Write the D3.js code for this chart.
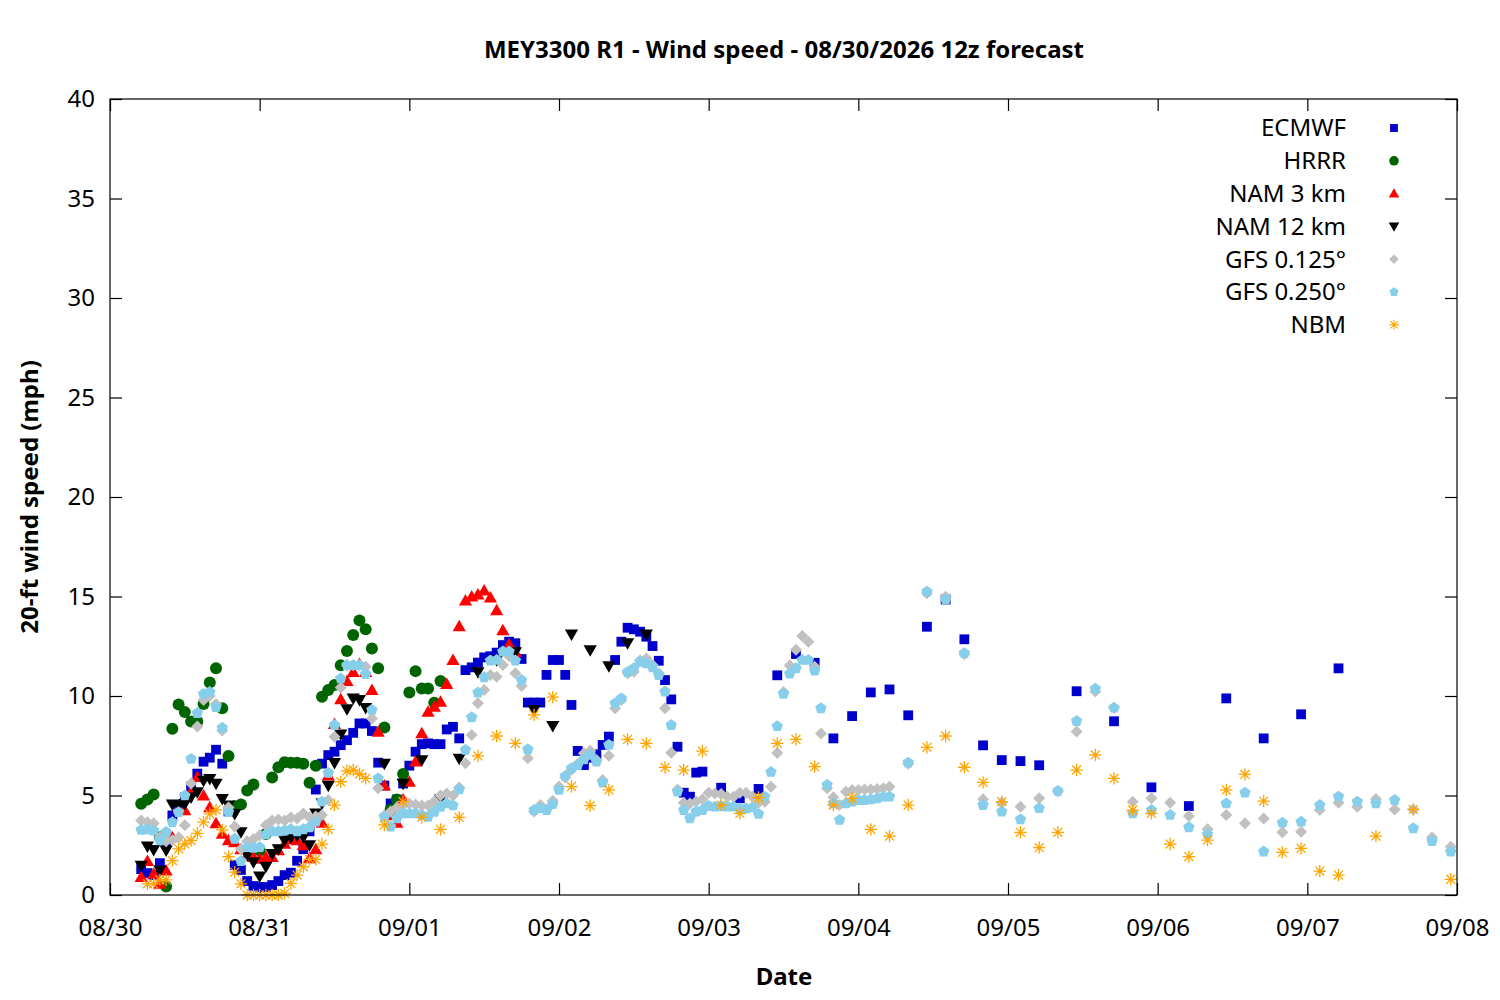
<!DOCTYPE html>
<html>
<head>
<meta charset="utf-8">
<script src="https://cdn.jsdelivr.net/npm/d3@7"></script>
<style>
  html, body { margin: 0; padding: 0; background: #fff; }
  svg text { font-family: "Noto Sans", "Open Sans", sans-serif; }
</style>
</head>
<body>
<svg id="chart" width="1500" height="1000"></svg>
<script>
// ---------------- DATA (hours after 08/30 00:00 local) ----------------
const titleText = "MEY3300 R1 - Wind speed - 08/30/2026 12z forecast";
const xTickLabels = ["08/30","08/31","09/01","09/02","09/03","09/04","09/05","09/06","09/07","09/08"];
const yTickValues = [0,5,10,15,20,25,30,35,40];
const seriesNames = ["ECMWF","HRRR","NAM 3 km","NAM 12 km","GFS 0.125°","GFS 0.250°","NBM"];

// ECMWF: hourly from h5, 3-hourly from h98, 6-hourly from h155
const ecmwfHourly = [1.3,1.1,1.0,1.6,2.6,4.0,4.5,4.9,5.45,6.1,6.7,6.9,7.3,6.6,4.2,1.5,1.26,0.7,0.45,0.4,0.4,0.5,0.7,1.0,1.12,1.72,2.3,3.2,5.3,6.6,7.03,7.2,7.53,7.78,8.15,8.62,8.62,8.24,6.65,5.5,4.6,4.8,5.6,6.5,7.2,7.58,7.62,7.58,7.58,8.32,8.45,7.87,11.3,11.44,11.68,11.94,12.0,12.18,12.56,12.73,12.65,11.86,9.67,9.67,9.67,11.06,11.81,11.81,11.06,9.55,7.24,6.53,6.9,7.07,7.54,7.96,11.81,12.73,13.43,13.35,13.23,12.98,12.51,11.77,10.8,9.83,7.45,5.14,4.94,6.15,6.2];
const ecmwf3h = [5.39,4.86,5.33,11.04,12.11,11.67,7.87,8.99,10.18,10.33,9.03,13.48,14.85,12.85,7.52,6.78,6.73,6.52];
const ecmwf6h = [10.24,8.73,5.41,4.47,9.88,7.87,9.08,11.39];

// HRRR: hourly from h5
const hrrrHourly = [4.58,4.8,5.05,2.9,0.43,8.35,9.57,9.19,8.72,8.72,9.6,10.68,11.4,9.39,6.98,4.46,4.55,5.25,5.55,2.24,3.07,5.9,6.42,6.67,6.65,6.65,6.6,5.64,6.5,9.96,10.3,10.55,11.55,12.26,13.06,13.8,13.35,12.39,11.4,8.42,4.3,4.8,6.08,10.18,11.25,10.38,10.38,9.66,10.75];

// NAM 3 km: hourly from h5
const nam3Hourly = [0.9,1.7,1.06,0.56,1.23,2.9,4.33,4.25,5.2,5.92,5.0,4.41,3.6,3.07,2.74,2.65,2.3,2.0,1.9,1.82,1.9,1.9,2.24,2.57,2.8,2.75,2.5,1.84,2.3,3.63,6.0,8.59,9.83,10.75,11.2,11.6,11.2,10.3,8.2,5.5,4.0,3.63,4.8,5.69,6.7,8.12,9.2,9.46,9.7,10.6,11.8,13.5,14.8,15.0,15.1,15.3,14.95,14.3,13.3,12.6,12.2];

// NAM 12 km: hourly from h5, 3-hourly from h44
const nam12Hourly = [1.48,2.44,2.27,1.23,2.24,4.55,4.5,4.58,4.9,5.17,5.75,5.84,5.59,4.83,4.5,4.08,3.16,2.0,1.65,0.93,1.43,2.07,2.3,2.74,2.9,3.0,2.9,2.5,4.1,4.6,5.5,6.64,8.07,9.34,9.88,9.8,9.4];
const nam12_3h = [6.6,5.6,6.78,4.8,6.85,11.2,11.8,12.2,9.3,8.5,13.1,12.3,11.5,12.65,13.1];

// GFS 0.125°: hourly from h5, 3-hourly from h128
const gfs125Hourly = [3.75,3.65,3.6,2.9,2.7,2.75,2.9,3.5,5.6,8.47,9.8,10.0,9.6,8.27,4.4,3.44,2.3,2.7,2.8,3.0,3.5,3.75,3.8,3.74,3.9,3.85,4.1,3.9,3.95,4.02,4.77,7.95,10.43,11.55,11.55,11.55,11.47,8.87,5.36,4.0,4.2,4.4,4.5,4.6,4.55,4.5,4.5,4.7,5.0,5.1,5.0,5.4,6.62,8.04,9.63,10.3,11.06,10.97,11.56,12.0,11.14,10.5,6.87,4.19,4.52,4.3,4.74,5.45,5.9,6.3,6.6,7.12,7.25,6.79,5.78,7.0,9.38,9.8,11.14,11.22,11.8,11.89,11.56,11.14,9.38,7.15,5.3,4.64,4.6,4.7,4.81,5.14,5.1,5.07,4.94,4.94,5.14,5.14,4.94,4.64,4.69,5.44,7.14,10.2,11.53,12.33,13.01,12.73,11.47,8.12,5.36,4.91,4.52,5.19,5.28,5.28,5.3,5.3,5.33,5.36,5.44];
const gfs125_3h = [6.6,15.16,14.99,12.1,4.81,4.64,4.44,4.86,5.2,8.21,10.22,9.4,4.69,4.86,4.64,3.97,3.3,4.02,3.6,3.85,3.15,3.18,4.27,4.64,4.44,4.82,4.3,4.3,2.9,2.43];

// GFS 0.250°: hourly from h5, 3-hourly from h128
const gfs250Hourly = [3.27,3.3,3.24,2.74,3.16,3.66,4.16,5.0,6.84,9.14,10.1,10.2,9.44,8.4,4.16,2.82,1.7,2.4,2.37,2.4,3.04,3.2,3.2,3.24,3.3,3.2,3.3,3.4,3.68,4.69,6.14,8.54,10.88,11.55,11.55,11.55,11.1,9.3,5.86,3.93,3.43,3.85,4.1,4.1,4.1,4.02,3.93,4.18,4.43,4.6,4.5,5.31,7.29,8.93,10.17,10.94,11.78,11.81,12.23,12.23,11.78,10.8,7.32,4.27,4.36,4.27,4.57,5.28,5.98,6.37,6.53,6.82,7.04,6.7,5.65,7.54,9.63,9.88,11.2,11.39,11.72,11.64,11.44,11.05,10.22,8.54,5.19,4.27,3.85,4.19,4.27,4.47,4.44,4.47,4.44,4.44,4.35,4.35,4.4,4.07,4.94,6.18,8.48,10.1,11.12,11.39,11.81,11.81,11.27,9.38,5.53,4.6,3.77,4.6,4.69,4.77,4.77,4.8,4.85,4.94,4.94];
const gfs250_3h = [6.65,15.24,14.86,12.15,4.52,4.19,3.8,4.36,5.23,8.74,10.37,9.41,4.1,4.27,4.02,3.4,3.05,4.6,5.14,2.18,3.63,3.68,4.52,4.94,4.69,4.6,4.77,3.35,2.71,2.18];

// NBM: hourly from h6, 3-hourly from h44, 6-hourly from h203
const nbmHourly = [0.56,0.56,0.76,0.76,1.73,2.32,2.57,2.74,3.1,3.66,4.08,4.28,3.27,1.93,1.15,0.56,0,0,0,0,0,0,0.08,0.58,1.0,1.42,1.79,1.79,2.56,3.3,4.52,5.69,6.24,6.28,6.08,5.86];
const nbm3h = [3.52,4.69,3.9,3.3,3.9,6.99,7.99,7.62,9.05,9.94,5.45,4.49,5.28,7.82,7.62,6.41,6.28,7.23,4.52,4.1,4.9,7.62,7.82,6.45,4.52,4.86,3.3,2.96,4.52,7.42,7.99,6.42,5.66,4.69,3.15,2.38,3.15,6.28,7.04,5.86,4.27,4.1,2.56,1.93,2.76,5.28,6.06,4.72,2.14,2.34,1.2,1.0];
const nbm6h = [2.96,4.3,0.79];

// ---------------- BUILD ----------------
function seg(start, step, vals) { return vals.map((v, i) => ({ h: start + i * step, v: v })); }

const series = [
  { name: seriesNames[0], color: "#0000cc", shape: "square",
    pts: [].concat(seg(5,1,ecmwfHourly), seg(98,3,ecmwf3h), seg(155,6,ecmwf6h)) },
  { name: seriesNames[1], color: "#006400", shape: "circle",
    pts: seg(5,1,hrrrHourly) },
  { name: seriesNames[2], color: "#ff0000", shape: "triUp",
    pts: seg(5,1,nam3Hourly) },
  { name: seriesNames[3], color: "#000000", shape: "triDown",
    pts: [].concat(seg(5,1,nam12Hourly), seg(44,3,nam12_3h)) },
  { name: seriesNames[4], color: "#c0c0c0", shape: "diamond",
    pts: [].concat(seg(5,1,gfs125Hourly), seg(128,3,gfs125_3h)) },
  { name: seriesNames[5], color: "#87ceeb", shape: "pentagon",
    pts: [].concat(seg(5,1,gfs250Hourly), seg(128,3,gfs250_3h)) },
  { name: seriesNames[6], color: "#ffa500", shape: "asterisk",
    pts: [].concat(seg(6,1,nbmHourly), seg(44,3,nbm3h), seg(203,6,nbm6h)) }
];

const M = { left: 110, right: 1457, top: 99, bottom: 895 };
const x = d3.scaleLinear().domain([0, 216]).range([M.left, M.right]);
const y = d3.scaleLinear().domain([0, 40]).range([M.bottom, M.top]);

const svg = d3.select("#chart");
const FS = 24;

function shapePath(shape) {
  const r = 6.2;
  switch (shape) {
    case "square": return `M${-4.9},${-4.9}h9.8v9.8h-9.8Z`;
    case "circle": return d3.symbol(d3.symbolCircle, Math.PI * 6 * 6)();
    case "triUp": return `M0,${-6.6}L${6.6},${4.9}L${-6.6},${4.9}Z`;
    case "triDown": return `M0,${6.6}L${6.6},${-4.9}L${-6.6},${-4.9}Z`;
    case "diamond": return `M0,-6L6,0L0,6L-6,0Z`;
    case "pentagon": {
      const pts = d3.range(5).map(i => {
        const a = -Math.PI / 2 + i * 2 * Math.PI / 5;
        return [6 * Math.cos(a), 6 * Math.sin(a)];
      });
      return "M" + pts.map(p => p.join(",")).join("L") + "Z";
    }
    case "asterisk": {
      const d = r * 0.72;
      return `M${-r},0H${r}M0,${-r}V${r}M${-d},${-d}L${d},${d}M${-d},${d}L${d},${-d}`;
    }
  }
}

const g = svg.append("g");

const yAxisL = d3.axisLeft(y).tickValues(yTickValues).tickSize(-12).tickPadding(15).tickFormat(d3.format("d"));
const yAxisR = d3.axisRight(y).tickValues(yTickValues).tickSize(-12).tickFormat("");
const xTickVals = xTickLabels.map((_, i) => i * 24);
const xAxisB = d3.axisBottom(x).tickValues(xTickVals).tickSize(-12).tickPadding(24).tickFormat((d, i) => xTickLabels[i]);
const xAxisT = d3.axisTop(x).tickValues(xTickVals).tickSize(-12).tickFormat("");

function styleAxis(sel) {
  sel.select(".domain").remove();
  sel.selectAll(".tick line").attr("stroke", "#000").attr("stroke-width", 1.2);
  sel.selectAll(".tick text").attr("fill", "#000").style("font-size", FS + "px").style("font-family", "'Noto Sans', sans-serif");
}
g.append("g").attr("transform", `translate(${M.left},0)`).call(yAxisL).call(styleAxis);
g.append("g").attr("transform", `translate(${M.right},0)`).call(yAxisR).call(styleAxis);
g.append("g").attr("transform", `translate(0,${M.bottom})`).call(xAxisB).call(styleAxis);
g.append("g").attr("transform", `translate(0,${M.top})`).call(xAxisT).call(styleAxis);

// data points
const plot = svg.append("g");
series.forEach(s => {
  const p = shapePath(s.shape);
  const isStroke = s.shape === "asterisk";
  plot.append("g").selectAll("path").data(s.pts).join("path")
    .attr("d", p)
    .attr("transform", d => `translate(${x(d.h)},${y(d.v)})`)
    .attr("fill", isStroke ? "none" : s.color)
    .attr("stroke", isStroke ? s.color : "none")
    .attr("stroke-width", isStroke ? 1.3 : 0);
});

// border
svg.append("rect").attr("x", M.left).attr("y", M.top)
  .attr("width", M.right - M.left).attr("height", M.bottom - M.top)
  .attr("fill", "none").attr("stroke", "#000").attr("stroke-width", 1.2);

// legend
const leg = svg.append("g");
series.forEach((s, i) => {
  const yy = 128 + i * 32.8;
  leg.append("text").attr("x", 1346).attr("y", yy).attr("dy", "0.35em")
    .attr("text-anchor", "end").style("font-size", FS + "px").attr("fill", "#000").text(s.name);
  const isStroke = s.shape === "asterisk";
  leg.append("path").attr("d", shapePath(s.shape))
    .attr("transform", `translate(1394,${yy}) scale(0.8)`)
    .attr("fill", isStroke ? "none" : s.color)
    .attr("stroke", isStroke ? s.color : "none")
    .attr("stroke-width", isStroke ? 1.3 : 0);
});

// title & labels
svg.append("text").attr("x", 784).attr("y", 50).attr("dy", "0.35em").attr("text-anchor", "middle")
  .style("font-size", FS + "px").style("font-weight", "bold").text(titleText);
svg.append("text").attr("x", 784).attr("y", 977).attr("dy", "0.35em").attr("text-anchor", "middle")
  .style("font-size", FS + "px").style("font-weight", "bold").text("Date");
svg.append("text").attr("transform", "translate(30,497) rotate(-90)").attr("dy", "0.35em").attr("text-anchor", "middle")
  .style("font-size", FS + "px").style("font-weight", "bold").text("20-ft wind speed (mph)");
</script>
</body>
</html>
